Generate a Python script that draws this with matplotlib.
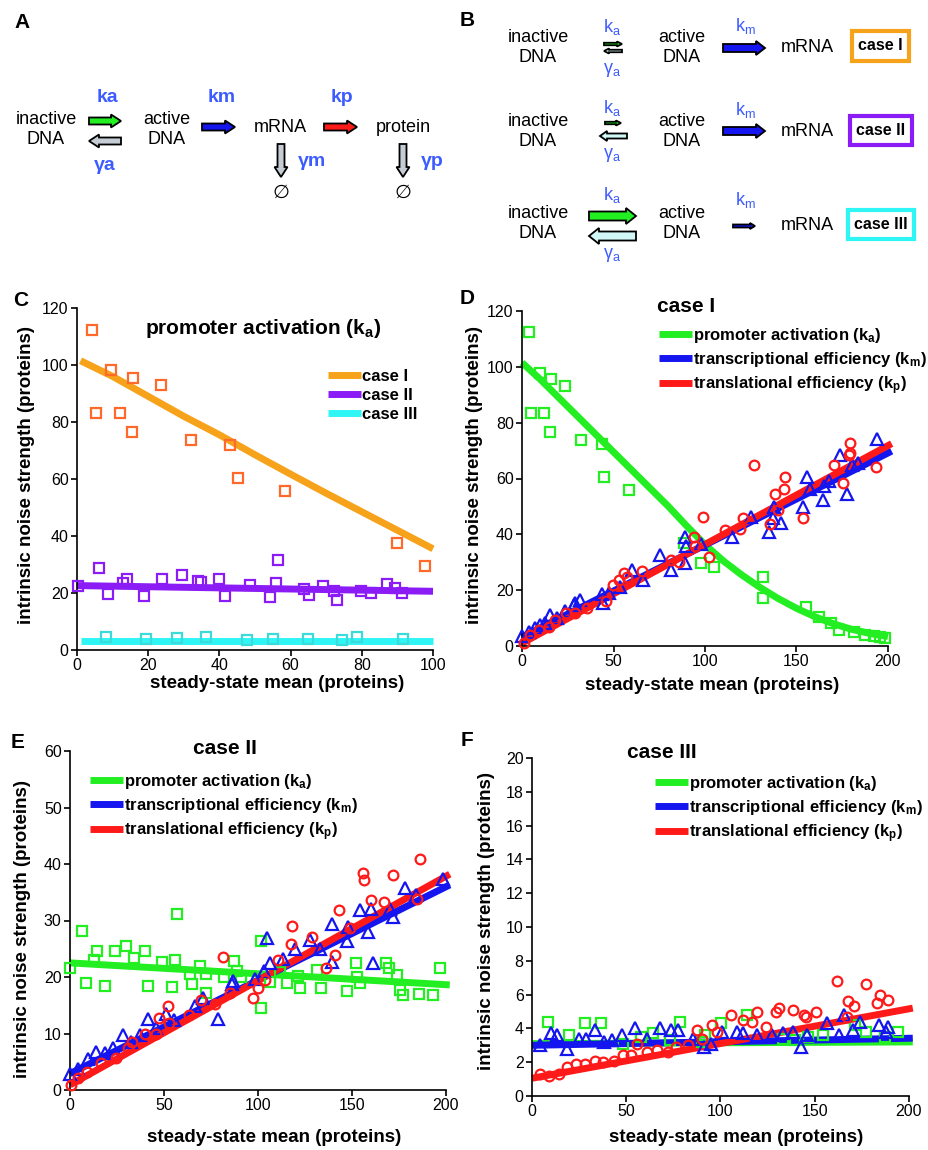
import matplotlib
matplotlib.use('Agg')
import matplotlib.pyplot as plt
from matplotlib.patches import FancyArrow, Rectangle
from matplotlib.lines import Line2D

plt.rcParams['font.family'] = ['Liberation Sans', 'DejaVu Sans']
plt.rcParams['mathtext.default'] = 'regular'
plt.rcParams['axes.linewidth'] = 1.2

# ---- colours
ORANGE = '#f7a21b'
ORANGE_PT = '#ff6a2b'
PURPLE = '#8b1cf5'
CYAN = '#2ff5f5'
CYAN_PT = '#3ddada'
GREEN = '#22ee22'
BLUE = '#1515f0'
RED = '#ff1a1a'
TXT_BLUE = '#3d5cff'

# ---- panel C data (promoter activation, three cases)
c_case1_x = [4.2, 5.4, 9.5, 12.0, 15.6, 15.4, 23.5, 32.1, 43.1, 45.2, 58.4, 89.8, 97.7]
c_case1_y = [112.3, 83.2, 98.1, 83.2, 95.3, 76.5, 93.0, 73.8, 72.1, 60.4, 55.8, 37.7, 29.4]
c_case1_fit_x = [1, 10, 20, 30, 40, 50, 60, 70, 80, 90, 100]
c_case1_fit_y = [101.5, 96, 89, 82, 75.5, 68.5, 61.7, 55, 48.5, 42, 35.5]

c_case2_x = [0.2, 6.3, 8.7, 12.8, 14.1, 18.9, 23.9, 29.5, 34.0, 34.9, 39.9, 41.5, 48.7,
             54.3, 56.0, 56.4, 63.9, 65.2, 69.2, 72.9, 72.2, 79.9, 82.5, 87.0, 89.3, 91.4]
c_case2_y = [22.4, 28.6, 19.6, 23.4, 25.0, 18.9, 25.0, 26.2, 24.1, 23.8, 25.0, 18.9, 22.9,
             18.5, 23.4, 31.5, 21.3, 19.2, 22.4, 17.5, 20.8, 20.8, 20.1, 23.1, 21.7, 20.1]
c_case2_fit_x = [0, 100]
c_case2_fit_y = [22.6, 20.6]

c_case3_x = [8.1, 19.4, 28.1, 36.2, 47.8, 55.1, 64.8, 74.5, 78.6, 91.7]
c_case3_y = [4.4, 3.7, 4.2, 4.4, 3.5, 3.7, 4.0, 3.5, 4.4, 3.7]
c_case3_fit_x = [1, 100]
c_case3_fit_y = [3.2, 3.2]

# ---- panel D data (case I)
d_ka_x = [3.6, 5.1, 10.0, 11.8, 15.8, 15.1, 23.7, 32.4, 43.5, 45.0, 58.7, 88.5, 97.8, 105.1,
          131.5, 131.5, 155.2, 162.5, 168.9, 173.0, 181.2, 187.6, 192.2, 195.8, 198.5]
d_ka_y = [112.3, 83.3, 97.9, 83.3, 95.6, 76.5, 93.0, 73.7, 72.3, 60.5, 55.8, 37.0, 29.6, 28.2,
          24.8, 17.1, 13.8, 10.3, 8.4, 5.7, 5.1, 3.9, 3.6, 3.3, 3.0]
d_ka_fit_x = [0, 10, 20, 30, 40, 50, 60, 70, 80, 90, 100,
              110, 120, 130, 140, 150, 160, 170, 180, 190, 200]
d_ka_fit_y = [101.5, 95.5, 89, 82.5, 76, 69.5, 63, 56.5, 50, 43, 36.3,
              30.5, 25.5, 21, 17, 13.5, 10.5, 8, 6, 4.5, 3.4]

d_km_x = [0, 3.6, 7.3, 10, 12.8, 15.5, 19.1, 23.7, 28.2, 29.1, 31.9, 43.7, 44.1, 47.4, 53.4,
          60.1, 66.1, 75.6, 81.4, 89.3, 89.8, 89.3, 98, 114.8, 125.1, 134.8, 137.5, 137.2,
          141.5, 153.4, 155.7, 157.5, 164.9, 164.5, 167.6, 173.6, 177.6, 183.4, 193.9, 180.3]
d_km_y = [3.6, 5.1, 6.3, 7.5, 8.4, 11.1, 9.9, 12.6, 14.7, 15.3, 16.5, 18.8, 15.3, 19.1, 21.2,
          27.4, 23.6, 32.6, 27.2, 39.1, 35.8, 29.8, 36.5, 39.1, 46.3, 40.9, 49.9, 45.7,
          44.1, 49.9, 60.6, 56.4, 57.3, 52.2, 59.2, 68.4, 54.4, 65.4, 74.3, 64.8]
d_km_fit_x = [0, 202]
d_km_fit_y = [3.2, 69.8]

d_kp_x = [0.9, 4.2, 9.1, 14.6, 18.2, 24.2, 29.1, 35.5, 45.9, 49.7, 52.8, 55.6, 57.4, 65.6,
          81.4, 85.6, 93.8, 94.7, 98.7, 102.0, 111.1, 119.3, 120.8, 127.0, 135.7, 138.4,
          139.7, 143.0, 143.9, 153.5, 170.7, 175.4, 178.5, 179.4, 179.0, 193.6]
d_kp_y = [1.2, 3.9, 5.7, 6.9, 9.3, 11.9, 11.7, 13.5, 16.2, 21.8, 23.6, 26.0, 24.8, 26.8,
          30.8, 30.2, 39.1, 35.8, 46.3, 32.0, 41.5, 41.8, 45.7, 64.8, 43.7, 54.6,
          48.7, 56.4, 60.4, 46.0, 64.8, 58.5, 68.4, 72.8, 69.2, 64.2]
d_kp_fit_x = [0, 202]
d_kp_fit_y = [1.0, 72.5]

# ---- panel E data (case II)
e_ka_x = [0, 6.4, 8.7, 13, 14.2, 18.7, 23.8, 29.7, 34.3, 39.9, 41.4, 48.8, 54.5, 56.1, 56.8,
          63.7, 65.1, 69.1, 72.3, 72.6, 82.1, 87.2, 88.6, 90.9, 101.6, 101.6, 106.6, 111.7,
          115.3, 121.5, 122.6, 131.3, 133.6, 147.3, 152.2, 152.6, 154.4, 168.2, 169.5,
          173.9, 175.4, 177.1, 185.6, 193.1, 196.6]
e_ka_y = [21.6, 28.2, 18.9, 23.0, 24.6, 18.4, 24.6, 25.5, 23.4, 24.6, 18.4, 22.6, 18.3, 23.0, 31.2,
          20.6, 18.7, 21.9, 20.5, 17.2, 20.0, 22.8, 21.1, 20.0, 26.4, 14.6, 19.2, 20.9,
          18.9, 20.2, 18.1, 21.2, 18.0, 17.5, 22.4, 20.0, 18.9, 22.4, 21.6,
          20.3, 17.7, 16.8, 17.0, 16.8, 21.6]
e_ka_fit_x = [0, 202]
e_ka_fit_y = [22.5, 18.6]

e_km_x = [0, 4.4, 9.4, 13.7, 18.5, 22.9, 28.1, 32.7, 37.1, 41.7, 46.0, 51.3, 55.4, 66.6, 70.5,
          78.9, 86.3, 86.9, 98.4, 103.2, 104.9, 106.4, 113.1, 119.7, 127.7, 133.0, 139.2,
          139.6, 147.3, 147.8, 154.4, 158.4, 160.2, 161.1, 170.0, 171.7, 178.3, 184.0, 198.2]
e_km_y = [2.8, 3.8, 5.4, 6.8, 6.5, 7.4, 9.8, 8.5, 9.8, 12.6, 10.9, 13.4, 12.4, 14.8, 16.2,
          12.5, 18.7, 19.3, 19.6, 21.0, 26.9, 22.4, 23.1, 24.9, 26.5, 25.0, 29.3,
          22.7, 26.4, 28.9, 31.8, 27.9, 32.1, 22.4, 32.1, 30.6, 35.7, 34.5, 37.3]
e_km_fit_x = [0, 202]
e_km_fit_y = [2.9, 36.3]

e_kp_x = [0.4, 4.3, 9.1, 16.7, 24.3, 30.6, 33.2, 39.8, 47.1, 46.0, 52.2, 52.6, 63.2, 69.9,
          77.1, 81.2, 85.1, 97.5, 100.2, 103.7, 110.8, 117.6, 118.3, 128.6, 136.2, 141.0,
          143.3, 149.0, 156.1, 156.6, 160.0, 166.8, 171.6, 184.5, 186.3]
e_kp_y = [0.9, 2.2, 3.2, 4.7, 5.6, 7.4, 8.5, 9.9, 12.7, 10.0, 14.9, 11.9, 13.3, 15.9,
          15.3, 23.5, 17.1, 16.3, 18.0, 19.4, 23.0, 25.9, 29.0, 27.1, 21.6, 23.9,
          31.9, 28.6, 38.4, 37.1, 33.6, 33.2, 38.0, 33.8, 40.8]
e_kp_fit_x = [0, 202]
e_kp_fit_y = [0.9, 38.2]

# ---- panel F data (case III)
f_ka_x = [8.5, 19.5, 28.3, 36.5, 48.3, 58.0, 64.2, 73.0, 78.4, 90.0, 91.7, 100.5, 114.2,
          133.3, 139.5, 146.5, 154.2, 171.3, 177.2, 187.3, 194.3]
f_ka_y = [4.4, 3.6, 4.3, 4.3, 3.1, 3.5, 3.7, 3.3, 4.4, 3.2, 3.6, 4.3, 4.8,
          3.4, 3.3, 3.5, 3.6, 4.2, 3.8, 3.5, 3.8]
f_ka_fit_x = [0, 202]
f_ka_fit_y = [3.1, 3.2]

f_km_x = [4.1, 10.3, 13.5, 18.8, 24.8, 28.8, 33.5, 38.1, 42.7, 47.8, 54.9, 61.1, 68.1, 73.5,
          77.5, 85.5, 91.3, 95.2, 101.0, 108.5, 111.7, 119.5, 127.4, 133.3, 138.3, 142.5,
          145.7, 156.3, 163.0, 165.5, 170.1, 174.0, 184.1, 188.7, 187.8]
f_km_y = [3.0, 3.7, 3.6, 2.8, 3.4, 3.4, 3.9, 3.2, 3.3, 3.6, 4.0, 3.4, 4.0, 3.9,
          3.9, 3.4, 2.9, 3.1, 3.8, 3.8, 3.7, 3.6, 3.6, 3.7, 3.8, 2.9,
          3.6, 4.3, 3.6, 4.8, 3.9, 4.4, 4.2, 4.1, 3.8]
f_km_fit_x = [0, 202]
f_km_fit_y = [3.0, 3.42]

f_kp_x = [4.1, 8.8, 14.2, 18.8, 23.5, 28.0, 33.3, 37.7, 43.4, 48.3, 52.7, 55.8, 61.1, 66.4,
          72.2, 76.3, 82.8, 87.6, 90.1, 95.6, 97.9, 105.8, 111.7, 116.5, 119.5, 124.1,
          129.4, 131.0, 138.6, 144.4, 145.1, 150.6, 161.6, 167.3, 167.8, 171.0, 177.0,
          182.8, 184.6, 189.0]
f_kp_y = [1.3, 1.2, 1.3, 1.7, 1.9, 1.9, 2.1, 2.0, 2.1, 2.4, 2.4, 3.1, 2.6, 2.7,
          2.6, 2.9, 3.0, 3.9, 3.4, 4.2, 3.8, 4.8, 4.5, 4.4, 5.0, 4.1,
          5.0, 5.2, 5.1, 4.8, 4.7, 5.0, 6.8, 4.7, 5.6, 5.3, 6.6,
          5.5, 6.0, 5.7]
f_kp_fit_x = [0, 202]
f_kp_fit_y = [1.05, 5.2]

XLAB = 'steady-state mean (proteins)'
YLAB = 'intrinsic noise strength (proteins)'
LEG3 = ['promoter activation (k$_a$)', 'transcriptional efficiency (k$_m$)',
        'translational efficiency (k$_p$)']

W, H = 929, 1150
fig = plt.figure(figsize=(W / 100, H / 100), dpi=100)

# full-figure pixel axes for the schemes and free text
dg = fig.add_axes([0, 0, 1, 1])
dg.set_xlim(0, W)
dg.set_ylim(H, 0)
dg.axis('off')


def box(x0, y0, x1, y1):
    return [x0 / W, 1 - y1 / H, (x1 - x0) / W, (y1 - y0) / H]


def arrow(x0, y0, x1, y1, w, hw, hl, fc):
    dg.add_patch(FancyArrow(x0, y0, x1 - x0, y1 - y0, width=w, head_width=hw,
                            head_length=hl, length_includes_head=True,
                            fc=fc, ec='black', lw=1.3))


def txt(x, y, s, **kw):
    kw.setdefault('fontsize', 13)
    dg.text(x, y, s, ha='center', va='center', **kw)


# panel letters
for lab, (x, y) in zip('ABCDEF', [(22, 22), (467, 20), (21, 300), (467, 298), (18, 742), (467, 740)]):
    txt(x, y, lab, fontsize=15, fontweight='bold')

# ---- panel A scheme
GRAY = '#c5ccd3'
txt(46, 120, 'inactive'); txt(46, 140, 'DNA')
txt(167, 120, 'active'); txt(167, 140, 'DNA')
txt(280, 127, 'mRNA'); txt(403, 127, 'protein')
arrow(89, 121, 121, 121, 7, 13, 10, GREEN)
arrow(121, 141, 89, 141, 7, 13, 10, GRAY)
arrow(202, 127, 235, 127, 7, 13, 10, BLUE)
arrow(324, 127, 357, 127, 7, 13, 10, RED)
arrow(281, 144, 281, 177, 7, 13, 10, GRAY)
arrow(403, 144, 403, 177, 7, 13, 10, GRAY)
txt(107, 97, 'ka', color=TXT_BLUE, fontweight='bold', fontsize=14)
txt(222, 97, 'km', color=TXT_BLUE, fontweight='bold', fontsize=14)
txt(342, 97, 'kp', color=TXT_BLUE, fontweight='bold', fontsize=14)
txt(105, 166, 'γa', color=TXT_BLUE, fontweight='bold', fontsize=14)
txt(312, 162, 'γm', color=TXT_BLUE, fontweight='bold', fontsize=14)
txt(432, 162, 'γp', color=TXT_BLUE, fontweight='bold', fontsize=14)
txt(281, 193, '∅', fontsize=14)
txt(403, 193, '∅', fontsize=14)

# ---- panel B scheme
LCYAN = '#d2f7f7'
rows_y = [47, 131, 224]
for ry in rows_y:
    txt(538, ry - 10, 'inactive'); txt(538, ry + 10, 'DNA')
    txt(682, ry - 10, 'active'); txt(682, ry + 10, 'DNA')
    txt(807, ry + 1, 'mRNA')
# row 1
arrow(604, 44, 622, 44, 2.5, 5, 5, GREEN)
arrow(622, 51, 604, 51, 2.5, 5, 5, LCYAN)
arrow(723, 48, 765, 48, 8, 14, 9, BLUE)
txt(612, 27, 'k$_a$', color=TXT_BLUE)
txt(612, 70, 'γ$_a$', color=TXT_BLUE)
txt(745, 26, 'k$_m$', color=TXT_BLUE)
# row 2
arrow(605, 123, 621, 123, 2.5, 5, 5, GREEN)
arrow(627, 136, 600, 136, 5, 10, 7, LCYAN)
arrow(723, 131, 765, 131, 8, 14, 9, BLUE)
txt(612, 108, 'k$_a$', color=TXT_BLUE)
txt(612, 155, 'γ$_a$', color=TXT_BLUE)
txt(745, 110, 'k$_m$', color=TXT_BLUE)
# row 3
arrow(589, 216, 636, 216, 9, 16, 10, GREEN)
arrow(636, 236, 589, 236, 9, 16, 10, LCYAN)
arrow(733, 226, 755, 226, 3, 6, 5, BLUE)
txt(612, 195, 'k$_a$', color=TXT_BLUE)
txt(612, 255, 'γ$_a$', color=TXT_BLUE)
txt(745, 200, 'k$_m$', color=TXT_BLUE)
# case boxes
for (x0, y0, w, h), col, lab in zip([(852, 31, 57, 30), (850, 116, 62, 29), (848, 210, 66, 29)],
                                    [ORANGE, PURPLE, CYAN], ['case I', 'case II', 'case III']):
    dg.add_patch(Rectangle((x0, y0), w, h, fill=False, ec=col, lw=3))
    txt(x0 + w / 2, y0 + h / 2, lab, fontsize=11.5, fontweight='bold')


def style(ax, xmax, ymax, xstep, ystep, xl, yl):
    ax.set_xlim(0, xmax)
    ax.set_ylim(0, ymax)
    ax.set_xticks(range(0, xmax + 1, xstep))
    ax.set_yticks(range(0, ymax + 1, ystep))
    for s in ['top', 'right']:
        ax.spines[s].set_visible(False)
    ax.tick_params(direction='out', length=4, width=1.2, labelsize=11.5, pad=2)
    ax.set_xlabel(XLAB, fontsize=13.5, fontweight='bold', va='center')
    ax.set_ylabel(YLAB, fontsize=13.5, fontweight='bold', va='center')
    ax.xaxis.set_label_coords(*xl, transform=dg.transData)
    ax.yaxis.set_label_coords(*yl, transform=dg.transData)
    ax.patch.set_alpha(0)


def pts(ax, x, y, mk, col, ms=7):
    ax.plot(x, y, mk, mfc='none', mec=col, ms=ms, mew=1.6, clip_on=False, zorder=3)


def fit(ax, x, y, col):
    ax.plot(x, y, '-', color=col, lw=5, solid_capstyle='butt', clip_on=False, zorder=2)


def legend(ax, cols, labels, x, y, spacing):
    hs = [Line2D([], [], color=c, lw=5, solid_capstyle='butt') for c in cols]
    ax.legend(hs, labels, loc='upper left', bbox_to_anchor=(x, y), bbox_transform=dg.transData,
              frameon=False, borderpad=0, borderaxespad=0, handlelength=2.0,
              handletextpad=0.05, labelspacing=spacing,
              prop=dict(weight='bold', size=12))


# ---- panel C
axc = fig.add_axes(box(77, 308, 433, 650))
fit(axc, c_case1_fit_x, c_case1_fit_y, ORANGE)
fit(axc, c_case2_fit_x, c_case2_fit_y, PURPLE)
fit(axc, c_case3_fit_x, c_case3_fit_y, CYAN)
pts(axc, c_case1_x, c_case1_y, 's', ORANGE_PT)
pts(axc, c_case2_x, c_case2_y, 's', PURPLE)
pts(axc, c_case3_x, c_case3_y, 's', CYAN_PT)
style(axc, 100, 120, 20, 20, (277, 683), (27, 475))
axc.text(263, 328, 'promoter activation (k$_a$)', transform=dg.transData,
         ha='center', va='center', fontsize=15, fontweight='bold')
legend(axc, [ORANGE, PURPLE, CYAN], ['case I', 'case II', 'case III'], 328, 369, 0.23)

# ---- panel D
axd = fig.add_axes(box(522, 311, 888, 646))
fit(axd, d_ka_fit_x, d_ka_fit_y, GREEN)
fit(axd, d_km_fit_x, d_km_fit_y, BLUE)
fit(axd, d_kp_fit_x, d_kp_fit_y, RED)
pts(axd, d_ka_x, d_ka_y, 's', GREEN)
pts(axd, d_km_x, d_km_y, '^', BLUE, 8)
pts(axd, d_kp_x, d_kp_y, 'o', RED)
style(axd, 200, 120, 50, 20, (712, 686), (475, 475))
axd.text(686, 307, 'case I', transform=dg.transData,
         ha='center', va='center', fontsize=15, fontweight='bold')
legend(axd, [GREEN, BLUE, RED], LEG3, 659, 326, 0.3)

# ---- panel E
axe = fig.add_axes(box(70, 751, 446, 1090))
fit(axe, e_ka_fit_x, e_ka_fit_y, GREEN)
fit(axe, e_km_fit_x, e_km_fit_y, BLUE)
fit(axe, e_kp_fit_x, e_kp_fit_y, RED)
pts(axe, e_ka_x, e_ka_y, 's', GREEN)
pts(axe, e_km_x, e_km_y, '^', BLUE, 8)
pts(axe, e_kp_x, e_kp_y, 'o', RED)
style(axe, 200, 60, 50, 10, (274, 1138), (23, 929))
axe.text(225, 748, 'case II', transform=dg.transData,
         ha='center', va='center', fontsize=15, fontweight='bold')
legend(axe, [GREEN, BLUE, RED], LEG3, 90, 772, 0.3)

# ---- panel F
axf = fig.add_axes(box(532, 758, 909, 1096))
fit(axf, f_ka_fit_x, f_ka_fit_y, GREEN)
fit(axf, f_km_fit_x, f_km_fit_y, BLUE)
fit(axf, f_kp_fit_x, f_kp_fit_y, RED)
pts(axf, f_ka_x, f_ka_y, 's', GREEN)
pts(axf, f_km_x, f_km_y, '^', BLUE, 8)
pts(axf, f_kp_x, f_kp_y, 'o', RED)
style(axf, 200, 20, 50, 2, (736, 1138), (487, 921))
axf.text(662, 752, 'case III', transform=dg.transData,
         ha='center', va='center', fontsize=15, fontweight='bold')
legend(axf, [GREEN, BLUE, RED], LEG3, 655, 774, 0.3)

fig.savefig('out.png', dpi=100)
